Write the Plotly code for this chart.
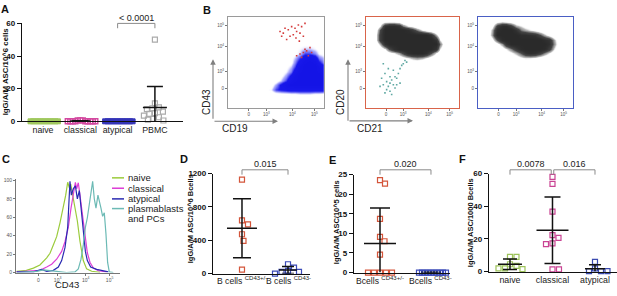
import numpy as np
import plotly.graph_objects as go

W, H = 617, 296
FONT = "Liberation Sans, Arial, sans-serif"

# ======================= DATA =======================
# Panel A
a_categories = ["naive", "classical", "atypical", "PBMC"]
a_naive = [0] * 12
a_classical = [0] * 9 + [0.6, 0.6, 0.6]
a_atypical = [0] * 12
a_pbmc = [50, 11, 8.5, 8, 7.5, 6, 5, 4.5, 3.5, 2.5, 1.5, 1, 0.5]
a_ticks = [0, 20, 40, 60]
a_pvalue = "< 0.0001"
a_ylabel = "IgG/A/M ASC/10^6 cells"

# Panel B (flow cytometry, biexponential display units 0..1)
flow_tick_pos = [0.215, 0.40, 0.67, 0.90]
flow_tick_text = ["0", "10<sup>3</sup>", "10<sup>4</sup>", "10<sup>5</sup>"]

b1_x = [0.45, 0.50, 0.55, 0.60, 0.65, 0.70, 0.75, 0.80, 0.85, 0.90, 0.95, 1.00]
b1_y = [0.15, 0.20, 0.25, 0.30, 0.35, 0.40, 0.45, 0.50, 0.55, 0.60, 0.65, 0.70, 0.75, 0.80]
b1_z = [
    [0, 0, 0, 0, 0.05, 0.05, 0.1, 0.1, 0.1, 0.05, 0.05, 0],
    [0.15, 0.4, 0.5, 0.55, 0.6, 0.6, 0.6, 0.6, 0.6, 0.6, 0.6, 0.6],
    [0.05, 0.25, 0.5, 0.75, 0.95, 1, 1, 1, 1, 1, 1, 1],
    [0, 0.05, 0.2, 0.4, 0.7, 0.9, 1, 1, 1, 1, 1, 1],
    [0, 0, 0.1, 0.25, 0.5, 0.8, 1, 1, 1, 1, 1, 0.9],
    [0, 0, 0.05, 0.15, 0.3, 0.6, 0.9, 1, 1, 1, 0.9, 0.7],
    [0, 0, 0, 0.1, 0.2, 0.4, 0.8, 1, 1, 1, 0.8, 0.5],
    [0, 0, 0, 0.05, 0.1, 0.3, 0.6, 0.9, 1, 0.9, 0.5, 0.3],
    [0, 0, 0, 0, 0.1, 0.2, 0.4, 0.7, 0.8, 0.6, 0.3, 0.2],
    [0, 0, 0, 0, 0.05, 0.1, 0.2, 0.4, 0.4, 0.3, 0.15, 0.1],
    [0, 0, 0, 0, 0.05, 0.1, 0.15, 0.2, 0.2, 0.15, 0.1, 0.05],
    [0, 0, 0, 0, 0, 0.05, 0.1, 0.1, 0.1, 0.1, 0.05, 0],
    [0, 0, 0, 0, 0, 0.05, 0.08, 0.08, 0.08, 0.05, 0, 0],
    [0, 0, 0, 0, 0, 0, 0.05, 0.05, 0.05, 0, 0, 0],
]
b1_red_x = [0.542, 0.576, 0.628, 0.663, 0.680, 0.698, 0.715, 0.733, 0.750, 0.767, 0.785, 0.646,
            0.611, 0.802, 0.708, 0.743, 0.819, 0.785, 0.837, 0.750, 0.802, 0.854, 0.715, 0.767,
            0.871, 0.594, 0.559]
b1_red_y = [0.837, 0.819, 0.855, 0.890, 0.801, 0.872, 0.837, 0.908, 0.819, 0.890, 0.784, 0.784,
            0.748, 0.926, 0.766, 0.731, 0.624, 0.606, 0.571, 0.589, 0.642, 0.660, 0.571, 0.553,
            0.606, 0.872, 0.784]

b23_x = [0.10, 0.15, 0.20, 0.25, 0.30, 0.35, 0.40, 0.45, 0.50, 0.55, 0.60, 0.65, 0.70, 0.75,
         0.80, 0.85, 0.90]
b2_y = [0.50, 0.55, 0.60, 0.65, 0.70, 0.75, 0.80, 0.85, 0.90, 0.95]
b2_z = [
    [0, 0, 0, 0, 0, 0, 0, 0.1, 0.15, 0.15, 0.1, 0.05, 0, 0, 0, 0, 0],
    [0, 0, 0, 0, 0.05, 0.1, 0.2, 0.3, 0.4, 0.45, 0.4, 0.3, 0.15, 0.05, 0, 0, 0],
    [0, 0, 0.1, 0.2, 0.3, 0.45, 0.65, 0.9, 1, 1, 1, 0.9, 0.6, 0.3, 0.1, 0, 0],
    [0, 0.1, 0.3, 0.6, 0.85, 1, 1, 1, 1, 1, 1, 1, 1, 0.8, 0.3, 0.05, 0],
    [0.05, 0.4, 0.85, 1, 1, 1, 1, 1, 1, 1, 1, 1, 1, 1, 0.5, 0.1, 0],
    [0.15, 0.7, 1, 1, 1, 1, 1, 1, 1, 1, 1, 1, 1, 0.8, 0.3, 0.05, 0],
    [0.15, 0.7, 1, 1, 1, 1, 1, 1, 1, 1, 1, 1, 0.8, 0.4, 0.1, 0, 0],
    [0.1, 0.6, 1, 1, 1, 1, 1, 0.9, 0.7, 0.5, 0.3, 0.15, 0.05, 0, 0, 0, 0],
    [0, 0.3, 0.8, 0.9, 0.9, 0.8, 0.5, 0.3, 0.2, 0.1, 0.05, 0, 0, 0, 0, 0, 0],
    [0, 0.1, 0.15, 0.15, 0.15, 0.1, 0, 0, 0, 0, 0, 0, 0, 0, 0, 0, 0],
]
b2_teal_x = [0.168, 0.186, 0.204, 0.222, 0.240, 0.258, 0.276, 0.294, 0.312, 0.258, 0.222, 0.330,
             0.348, 0.366, 0.384, 0.401, 0.419, 0.437, 0.294, 0.240, 0.204, 0.276, 0.330, 0.186,
             0.366, 0.151, 0.312, 0.258]
b2_teal_y = [0.323, 0.252, 0.376, 0.287, 0.234, 0.270, 0.305, 0.252, 0.216, 0.181, 0.199, 0.323,
             0.376, 0.429, 0.465, 0.482, 0.518, 0.500, 0.411, 0.429, 0.163, 0.145, 0.252, 0.482,
             0.270, 0.234, 0.340, 0.340]

b3_y = [0.45, 0.50, 0.55, 0.60, 0.65, 0.70, 0.75, 0.80, 0.85, 0.90, 0.95]
b3_z = [
    [0, 0, 0, 0, 0, 0, 0.05, 0.1, 0.1, 0.05, 0, 0, 0, 0, 0, 0, 0],
    [0, 0, 0, 0, 0, 0.05, 0.1, 0.15, 0.2, 0.15, 0.1, 0.05, 0, 0, 0, 0, 0],
    [0, 0, 0, 0, 0.05, 0.1, 0.15, 0.25, 0.3, 0.3, 0.25, 0.15, 0.1, 0.05, 0, 0, 0],
    [0, 0, 0, 0.05, 0.15, 0.25, 0.4, 0.6, 0.8, 0.9, 0.85, 0.7, 0.5, 0.3, 0.1, 0, 0],
    [0, 0, 0.05, 0.15, 0.3, 0.5, 0.75, 0.95, 1, 1, 1, 1, 0.95, 0.7, 0.3, 0.05, 0],
    [0, 0.05, 0.2, 0.45, 0.8, 1, 1, 1, 1, 1, 1, 1, 1, 0.85, 0.45, 0.1, 0],
    [0, 0.2, 0.6, 0.95, 1, 1, 1, 1, 1, 1, 1, 1, 0.9, 0.8, 0.4, 0.05, 0],
    [0.05, 0.45, 1, 1, 1, 1, 1, 0.9, 0.9, 0.85, 0.8, 0.6, 0.4, 0.2, 0.05, 0, 0],
    [0.05, 0.4, 0.9, 1, 1, 1, 0.8, 0.5, 0.4, 0.3, 0.2, 0.1, 0.05, 0, 0, 0, 0],
    [0, 0.2, 0.7, 0.9, 0.9, 0.7, 0.4, 0.3, 0.2, 0.15, 0.05, 0, 0, 0, 0, 0, 0],
    [0, 0.05, 0.15, 0.2, 0.15, 0.1, 0.05, 0, 0, 0, 0, 0, 0, 0, 0, 0, 0],
]

# Panel C (histograms of CD43, % of max)
c_naive_x = [0.006, 0.10, 0.167, 0.23, 0.295, 0.327, 0.359, 0.391, 0.423, 0.455, 0.478, 0.497,
             0.513, 0.526, 0.545, 0.567, 0.590, 0.615, 0.647, 0.679, 0.728, 0.808]
c_naive_y = [1.4, 2.4, 4.8, 8.3, 16, 21, 30, 39, 54, 70, 84, 98, 92, 96, 84, 73, 56, 34, 13, 4, 1.4, 0.3]
c_classical_x = [0.006, 0.135, 0.23, 0.295, 0.343, 0.391, 0.439, 0.471, 0.503, 0.529, 0.551, 0.571,
                 0.583, 0.599, 0.615, 0.638, 0.663, 0.686, 0.712, 0.744, 0.792, 0.872]
c_classical_y = [0.7, 1.4, 2.4, 6, 9, 14.5, 23, 33.5, 49, 70, 87, 98, 91, 97.5, 84, 63, 39, 21.5, 11,
                 4.8, 2, 0.7]
c_atypical_x = [0.006, 0.167, 0.247, 0.295, 0.359, 0.407, 0.439, 0.471, 0.497, 0.510, 0.519, 0.532,
                0.551, 0.571, 0.590, 0.609, 0.628, 0.647, 0.667, 0.686, 0.718, 0.776, 0.84, 0.888]
c_atypical_y = [0.7, 0.7, 3.5, 1.4, 2.4, 6, 13, 27, 49, 73, 99, 84, 91, 94, 80, 89, 66, 42, 23, 13, 6,
                3.5, 2, 0.7]
c_pc_x = [0.006, 0.199, 0.263, 0.327, 0.391, 0.487, 0.567, 0.599, 0.625, 0.647, 0.667, 0.686, 0.705,
          0.724, 0.737, 0.753, 0.769, 0.788, 0.801, 0.817, 0.833, 0.849, 0.865, 0.881, 0.897, 0.936]
c_pc_y = [0, 1.4, 3, 2.4, 1.4, 0, 0.7, 4, 14.5, 30, 49, 59.5, 73, 87, 99, 80, 70, 84, 78.5, 70, 61,
          65, 42, 11, 0.7, 0]
c_ticks = [0, 20, 40, 60, 80, 100]
c_labels = ["naive", "classical", "atypical", "plasmablasts", "and PCs"]

# Panel D
d_categories = ["B cells <sup>CD43+/-</sup>", "B cells <sup>CD43-</sup>"]
d_pos = [1128, 640, 592, 472, 392, 48]
d_neg = [72, 112, 20, 0, 20, 32]
d_ticks = [0, 400, 800, 1200]
d_pvalue = "0.015"
d_ylabel = "IgG/A/M ASC/10^6 Bcells"

# Panel E
e_categories = ["Bcells <sup>CD43+/-</sup>", "Bcells <sup>CD43-</sup>"]
e_pos = [22.7, 23.6, 13.7, 9.1, 8.0, 4.6, 0, 0, 0, 0, 0]
e_neg = [0] * 10
e_ticks = [0, 5, 10, 15, 20, 25]
e_pvalue = "0.020"
e_ylabel = "IgG/A/M ASC/10^5 cells"

# Panel F
f_categories = ["naive", "classical", "atypical"]
f_naive = [9, 9, 4.5, 3.5, 2, 2, 1.5]
f_classical = [58, 53.7, 36.8, 22.3, 20.7, 17.3, 16.9, 1.4, 1.4]
f_atypical = [6, 2, 0.3, 0.3, 0.3]
f_ticks = [0, 20, 40, 60]
f_pvalues = ["0.0078", "0.016"]
f_ylabel = "IgG/A/M ASC/1000 Bcells"

# ======================= LAYOUT HELPERS =======================
def fx(p):
    return p / W


def fy(p):
    return 1 - p / H


P = {
    "A": dict(ax=1, x=(22, 183), y=(20, 121), xr=(-0.563, 3.753), yr=(0, 60)),
    "B1": dict(ax=2, x=(228, 324), y=(13, 107), xr=(0, 1), yr=(0, 1)),
    "B2": dict(ax=3, x=(366, 459), y=(13, 107), xr=(0, 1), yr=(0, 1)),
    "B3": dict(ax=4, x=(478, 573), y=(13, 107), xr=(0, 1), yr=(0, 1)),
    "C": dict(ax=5, x=(16, 120), y=(181, 277), xr=(0, 1), yr=(0, 100)),
    "D": dict(ax=6, x=(213, 310), y=(175, 278), xr=(-0.630, 1.478), yr=(0, 1200)),
    "E": dict(ax=7, x=(354, 450), y=(176, 277), xr=(-0.510, 1.373), yr=(0, 25)),
    "F": dict(ax=8, x=(489, 617), y=(175, 276), xr=(-0.494, 2.518), yr=(0, 60)),
}


def axn(p):
    n = P[p]["ax"]
    return ("x" if n == 1 else f"x{n}"), ("y" if n == 1 else f"y{n}")


def ppu(p):
    d = P[p]
    return ((d["x"][1] - d["x"][0]) / (d["xr"][1] - d["xr"][0]),
            (d["y"][1] - d["y"][0]) / (d["yr"][1] - d["yr"][0]))


def swarm(vals, xppu, yppu, spacing):
    n = len(vals)
    offs = [0.0] * n
    placed = []
    order = sorted(range(n), key=lambda i: -vals[i])
    for i in order:
        yp = vals[i] * yppu
        k = 0
        found = None
        while found is None:
            cands = [0.0] if k == 0 else [k * 0.5, -k * 0.5]
            for xp in cands:
                if all((xp - a) ** 2 + (yp - b) ** 2 >= spacing ** 2 - 1e-9 for a, b in placed):
                    found = xp
                    break
            k += 1
        placed.append((found, yp))
        offs[i] = found / xppu
    return offs


fig = go.Figure()


def dot_group(p, xpos, vals, color, symbol="square-open", size=5, lw=1.2, spacing=6.5,
              mean_px=15, cap_px=9, lines_on_top=True, fill=None):
    xa, ya = axn(p)
    xppu, yppu = ppu(p)
    offs = swarm(vals, xppu, yppu, spacing)
    m = float(np.mean(vals))
    s = float(np.std(vals, ddof=1)) if len(vals) > 1 else 0.0
    hi = m + s
    lo = max(m - s, 0.0)
    mh, ch = mean_px / xppu, cap_px / xppu
    lx = [xpos - mh, xpos + mh, None, xpos, xpos, None, xpos - ch, xpos + ch]
    ly = [m, m, None, lo, hi, None, hi, hi]
    if m - s > 0:
        lx += [None, xpos - ch, xpos + ch]
        ly += [None, lo, lo]
    line_tr = go.Scatter(x=lx, y=ly, mode="lines", xaxis=xa, yaxis=ya,
                         line=dict(color="#111", width=1.5), hoverinfo="skip")
    mk = go.Scatter(x=[xpos + o for o in offs], y=vals, mode="markers", xaxis=xa, yaxis=ya,
                    cliponaxis=False,
                    marker=dict(symbol=symbol, size=size, color=fill if fill else color,
                                line=dict(color=color, width=lw)))
    if lines_on_top:
        fig.add_trace(mk)
        fig.add_trace(line_tr)
    else:
        fig.add_trace(line_tr)
        fig.add_trace(mk)


# ======================= PANEL A =======================
A_COL = ["#9FC85E", "#D3489F", "#3434B8", "#ABABAB"]
dot_group("A", 0, a_naive, A_COL[0], symbol="square", size=5, lw=1, spacing=2.2,
          mean_px=12, cap_px=8, lines_on_top=False, fill=A_COL[0])
dot_group("A", 1, a_classical, A_COL[1], symbol="square-open", size=5, lw=1.4, spacing=2.4,
          mean_px=10, cap_px=8, lines_on_top=True)
dot_group("A", 2, a_atypical, A_COL[2], symbol="square", size=5, lw=1, spacing=2.2,
          mean_px=12, cap_px=8, lines_on_top=False, fill=A_COL[2])
dot_group("A", 3, a_pbmc, A_COL[3], symbol="square-open", size=5, lw=1.2, spacing=5.5,
          mean_px=12, cap_px=8)

# ======================= PANEL B =======================
blue_cs = [[0, "rgba(255,255,255,0)"], [0.12, "rgba(255,255,255,0)"],
           [0.22, "rgba(100,100,250,0.5)"], [0.45, "rgb(25,25,235)"], [1, "rgb(20,20,230)"]]
gray_cs = [[0, "rgba(255,255,255,0)"], [0.24, "rgba(255,255,255,0)"],
           [0.36, "rgba(130,130,130,0.55)"], [0.6, "rgb(70,70,70)"], [0.85, "rgb(48,48,48)"],
           [1, "rgb(42,42,42)"]]
xa, ya = axn("B1")
fig.add_trace(go.Heatmap(x=b1_x, y=b1_y, z=b1_z, zmin=0, zmax=1, zsmooth="best",
                         colorscale=blue_cs, showscale=False, xaxis=xa, yaxis=ya, hoverinfo="skip"))
fig.add_trace(go.Scatter(x=b1_red_x, y=b1_red_y, mode="markers", xaxis=xa, yaxis=ya,
                         marker=dict(color="#D43A3A", size=1.6, symbol="square")))
xa, ya = axn("B2")
fig.add_trace(go.Heatmap(x=b23_x, y=b2_y, z=b2_z, zmin=0, zmax=1, zsmooth="best",
                         colorscale=gray_cs, showscale=False, xaxis=xa, yaxis=ya, hoverinfo="skip"))
fig.add_trace(go.Scatter(x=b2_teal_x, y=b2_teal_y, mode="markers", xaxis=xa, yaxis=ya,
                         marker=dict(color="#5FA8A2", size=1.6, symbol="square")))
xa, ya = axn("B3")
fig.add_trace(go.Heatmap(x=b23_x, y=b3_y, z=b3_z, zmin=0, zmax=1, zsmooth="best",
                         colorscale=gray_cs, showscale=False, xaxis=xa, yaxis=ya, hoverinfo="skip"))

# ======================= PANEL C =======================
C_COL = ["#9BCB3C", "#DD3FD6", "#2A2AB2", "#6CBAB5"]
xa, ya = axn("C")
for xs, ys, col in [(c_naive_x, c_naive_y, C_COL[0]), (c_classical_x, c_classical_y, C_COL[1]),
                    (c_atypical_x, c_atypical_y, C_COL[2]), (c_pc_x, c_pc_y, C_COL[3])]:
    fig.add_trace(go.Scatter(x=xs, y=ys, mode="lines", xaxis=xa, yaxis=ya,
                             line=dict(color=col, width=1.2)))

# ======================= PANEL D =======================
RED, BLUE = "#D4553A", "#3A4AB8"
dot_group("D", 0, d_pos, RED, spacing=7, mean_px=15, cap_px=9)
dot_group("D", 1, d_neg, BLUE, spacing=6.5, mean_px=9, cap_px=6)

# ======================= PANEL E =======================
dot_group("E", 0, e_pos, RED, spacing=6, mean_px=16, cap_px=10)
dot_group("E", 1, e_neg, BLUE, spacing=2.6, mean_px=10, cap_px=6)

# ======================= PANEL F =======================
F_COL = ["#9DC35A", "#C94393", "#3A4AB0"]
dot_group("F", 0, f_naive, F_COL[0], spacing=6.5, mean_px=12, cap_px=7)
dot_group("F", 1, f_classical, F_COL[1], spacing=6.5, mean_px=16, cap_px=8)
dot_group("F", 2, f_atypical, F_COL[2], spacing=6.5, mean_px=10, cap_px=6)

# ======================= AXES =======================
layout = dict(width=W, height=H, margin=dict(l=0, r=0, t=0, b=0), showlegend=False,
              paper_bgcolor="white", plot_bgcolor="rgba(0,0,0,0)",
              font=dict(family=FONT, color="#222"))


def axis_name(kind, n):
    return f"{kind}axis" if n == 1 else f"{kind}axis{n}"


prism_y = dict(showline=True, linecolor="#111", linewidth=1.4, ticks="outside", ticklen=4,
               tickwidth=1.4, tickcolor="#111", showgrid=False, zeroline=False,
               tickfont=dict(family=FONT, size=8, color="#111", weight="bold"))
prism_x = dict(showline=True, linecolor="#111", linewidth=1.4, ticks="", showgrid=False,
               zeroline=False, tickangle=0, ticklabeloverflow="allow",
               tickfont=dict(family=FONT, size=8.8, color="#222"))

dot_axes = {"A": (a_ticks, a_categories), "D": (d_ticks, d_categories),
            "E": (e_ticks, e_categories), "F": (f_ticks, f_categories)}
for p, (yt, cats) in dot_axes.items():
    d = P[p]
    n = d["ax"]
    layout[axis_name("x", n)] = dict(prism_x, domain=[fx(d["x"][0]), fx(d["x"][1])],
                                     range=list(d["xr"]), anchor=axn(p)[1],
                                     tickmode="array", tickvals=list(range(len(cats))),
                                     ticktext=cats, showticklabels=p in ("A", "F"))
    layout[axis_name("y", n)] = dict(prism_y, domain=[fy(d["y"][1]), fy(d["y"][0])],
                                     range=list(d["yr"]), anchor=axn(p)[0],
                                     tickmode="array", tickvals=yt)

box_cols = {"B1": "#9A9A9A", "B2": "#D9644A", "B3": "#4A5EC4"}
for p, col in box_cols.items():
    d = P[p]
    n = d["ax"]
    common = dict(showline=True, mirror=True, linecolor=col, linewidth=1.3, showgrid=False,
                  zeroline=False, ticks="outside", ticklen=2, tickwidth=0.8, tickcolor="#777",
                  tickmode="array", tickvals=flow_tick_pos, ticktext=flow_tick_text, tickangle=0,
                  tickfont=dict(family=FONT, size=4.5, color="#555"), range=[0, 1])
    layout[axis_name("x", n)] = dict(common, domain=[fx(d["x"][0]), fx(d["x"][1])],
                                     anchor=axn(p)[1])
    layout[axis_name("y", n)] = dict(common, domain=[fy(d["y"][1]), fy(d["y"][0])],
                                     anchor=axn(p)[0])

d = P["C"]
layout["xaxis5"] = dict(showline=True, linecolor="#777", linewidth=1, showgrid=False,
                        zeroline=False, ticks="outside", ticklen=2, tickcolor="#777",
                        tickmode="array", tickvals=flow_tick_pos, ticktext=flow_tick_text,
                        tickangle=0, tickfont=dict(family=FONT, size=5, color="#555"),
                        domain=[fx(d["x"][0]), fx(d["x"][1])], range=[0, 1], anchor="y5")
layout["yaxis5"] = dict(showline=True, linecolor="#777", linewidth=1, showgrid=False,
                        zeroline=False, ticks="outside", ticklen=2, tickcolor="#777",
                        tickmode="array", tickvals=c_ticks,
                        tickfont=dict(family=FONT, size=5, color="#555"),
                        domain=[fy(d["y"][1]), fy(d["y"][0])], range=[0, 101], anchor="x5")
fig.update_layout(**layout)

# ======================= ANNOTATIONS =======================
ann = []
shapes = []


def text(xp, yp, s, size=9, bold=False, angle=0, xanchor="center", color="#222"):
    ann.append(dict(x=fx(xp), y=fy(yp), xref="paper", yref="paper",
                    text=f"<b>{s}</b>" if bold else s, showarrow=False, textangle=angle,
                    xanchor=xanchor, yanchor="middle",
                    font=dict(family=FONT, size=size, color=color)))


for L, (xp, yp) in {"A": (5, 5), "B": (206.5, 6), "C": (5.5, 160), "D": (183.5, 160),
                    "E": (332.5, 160.5), "F": (462, 160)}.items():
    text(xp, yp, L, size=11, bold=True, color="#111")

text(5.5, 70, a_ylabel, size=7.8, bold=True, angle=-90, color="#111")
text(190, 222, d_ylabel, size=7.5, bold=True, angle=-90, color="#111")
text(336, 225, e_ylabel, size=7.5, bold=True, angle=-90, color="#111")
text(470, 226, f_ylabel, size=7.5, bold=True, angle=-90, color="#111")

text(207, 101, "CD43", size=10, angle=-90)
text(235, 128, "CD19", size=10)
text(341, 101, "CD20", size=10, angle=-90)
text(370, 128, "CD21", size=10)
text(67, 289.5, "CD43", size=9.5)

for p, cats in (("D", d_categories), ("E", e_categories)):
    for i, c in enumerate(cats):
        ann.append(dict(x=i, y=fy(285), xref=axn(p)[0], yref="paper", text=c, showarrow=False,
                        xanchor="center", yanchor="middle",
                        font=dict(family=FONT, size=8.6, color="#222")))

for (hx, hy, tx, ty) in [(213, 57, 213, 118), (278, 121, 213, 121),
                         (348, 57, 348, 120), (413, 120.5, 348, 120.5)]:
    ann.append(dict(x=fx(hx), y=fy(hy), xref="paper", yref="paper", text="", showarrow=True,
                    ax=tx - hx, ay=ty - hy, arrowhead=2, arrowsize=1, arrowwidth=1.1,
                    arrowcolor="#808080", standoff=0, startstandoff=0))

leg_y = [179.3, 190, 201, 211]
for i, yy in enumerate(leg_y):
    shapes.append(dict(type="line", xref="paper", yref="paper", x0=fx(112), x1=fx(124),
                       y0=fy(yy), y1=fy(yy), line=dict(color=C_COL[i], width=1.5)))
for i, yy in enumerate(leg_y + [221.7]):
    text(125.5, yy, c_labels[i], size=9.5, xanchor="left")


def bracket(p, g0, g1, label, ytop, ybot, ytext, color="#8A8A8A"):
    xa = axn(p)[0]
    shapes.append(dict(type="path", xref=xa, yref="paper",
                       path=f"M{g0},{fy(ybot)} L{g0},{fy(ytop)} L{g1},{fy(ytop)} L{g1},{fy(ybot)}",
                       line=dict(color=color, width=1)))
    ann.append(dict(x=(g0 + g1) / 2, y=fy(ytext), xref=xa, yref="paper", text=label,
                    showarrow=False, xanchor="center", yanchor="middle",
                    font=dict(family=FONT, size=9, color="#222")))


bracket("A", 2, 3, a_pvalue, 20, 25, 14.5)
bracket("D", 0, 1, d_pvalue, 171, 176, 165.5)
bracket("E", 0, 1, e_pvalue, 171, 176, 165.5)
bracket("F", 0, 0.97, f_pvalues[0], 171, 176, 165.5)
bracket("F", 1.03, 2, f_pvalues[1], 171, 176, 165.5)

fig.update_layout(annotations=ann, shapes=shapes)
# remove the browser's default 8px page margin so the figure sits at the window origin
fig.write_html("out.html", config={"displayModeBar": False},
               post_script="document.body.style.margin='0';document.body.style.padding='0';")
